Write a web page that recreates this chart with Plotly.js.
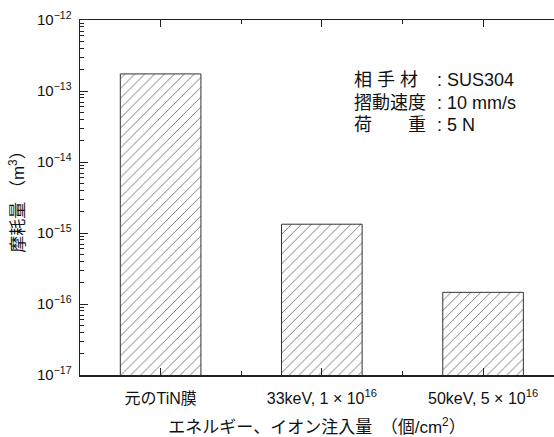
<!DOCTYPE html>
<html>
<head>
<meta charset="utf-8">
<script src="https://cdn.plot.ly/plotly-3.0.1.min.js"></script>
<style>html,body{margin:0;padding:0;background:#fff;}#chart{width:554px;height:437px;}</style>
</head>
<body>
<div id="chart"></div>
<script>
const categories = ["元のTiN膜", "33keV, 1 × 10<sup>16</sup>", "50keV, 5 × 10<sup>16</sup>"];
const wearVolume = [1.74e-13, 1.33e-15, 1.46e-16];
const yTickVals = [1e-17, 1e-16, 1e-15, 1e-14, 1e-13, 1e-12];
const yTickText = ["10<sup>−17</sup>", "10<sup>−16</sup>", "10<sup>−15</sup>", "10<sup>−14</sup>", "10<sup>−13</sup>", "10<sup>−12</sup>"];
const condLabels = ["相 手 材", "摺動速度", "荷　　重"];
const condValues = [": SUS304", ": 10 mm/s", ": 5 N"];

const FONT = "Liberation Sans, Arial, Noto Sans CJK JP, sans-serif";
const xIdx = categories.map((c, i) => i);

const trace = {
  type: 'bar',
  x: xIdx,
  y: wearVolume,
  width: 0.5,
  marker: {
    color: 'white',
    line: {color: '#333', width: 1},
    pattern: {shape: '/', size: 7, solidity: 0.1, fgcolor: '#444', bgcolor: 'white'}
  },
  hoverinfo: 'none'
};

const annotations = [];
const lineY = [80, 103, 125];
condLabels.forEach((t, i) => {
  annotations.push({xref: 'paper', yref: 'paper', x: (352 - 80) / 474, y: 1 - (lineY[i] - 20) / 355,
    xanchor: 'left', yanchor: 'middle', text: t, showarrow: false,
    font: {family: FONT, size: 18, color: '#111'}});
  annotations.push({xref: 'paper', yref: 'paper', x: (435 - 80) / 474, y: 1 - (lineY[i] - 20) / 355,
    xanchor: 'left', yanchor: 'middle', text: condValues[i], showarrow: false,
    font: {family: FONT, size: 18, color: '#111'}});
});

const layout = {
  width: 554, height: 437,
  margin: {l: 80, r: 0, t: 20, b: 62},
  paper_bgcolor: 'white', plot_bgcolor: 'white',
  showlegend: false,
  font: {family: FONT, color: '#111'},
  xaxis: {
    range: [-0.5, 2.44],
    tickvals: xIdx, ticktext: categories,
    ticks: 'inside', ticklen: 7, tickcolor: '#222', tickwidth: 1,
    minor: {tickvals: [0.5, 1.5], ticks: 'inside', ticklen: 4, tickcolor: '#222'},
    showline: true, linecolor: '#222', linewidth: 1.5, mirror: 'ticks',
    showgrid: false, zeroline: false,
    ticklabelstandoff: 8,
    tickfont: {family: FONT, size: 16, color: '#111'},
    title: {text: 'エネルギー、イオン注入量　（個/cm<sup>2</sup>）', font: {family: FONT, size: 17, color: '#111'}, standoff: 16}
  },
  yaxis: {
    type: 'log', range: [-17, -12],
    tickvals: yTickVals, ticktext: yTickText,
    ticks: 'inside', ticklen: 8, tickcolor: '#222', tickwidth: 1,
    minor: {ticks: 'inside', ticklen: 4, dtick: 'D1', tickcolor: '#222', showgrid: false},
    showline: true, linecolor: '#222', linewidth: 1.5, mirror: false,
    showgrid: false, zeroline: false,
    ticklabelstandoff: 4,
    tickfont: {family: FONT, size: 15, color: '#111'},
    title: {text: '摩耗量 （m<sup>3</sup>）', font: {family: FONT, size: 17, color: '#111'}, standoff: 8}
  },
  annotations: annotations
};

Plotly.newPlot('chart', [trace], layout, {staticPlot: true, displayModeBar: false});
</script>
</body>
</html>
